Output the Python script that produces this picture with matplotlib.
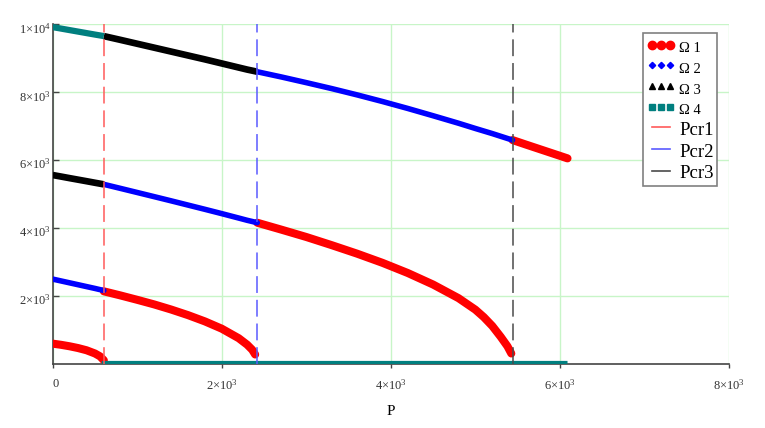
import numpy as np
import matplotlib.pyplot as plt
import matplotlib.transforms as mtransforms
from matplotlib.lines import Line2D
from matplotlib.ticker import FuncFormatter

plt.rcParams['font.family'] = ['Liberation Serif', 'DejaVu Serif']
plt.rcParams['mathtext.fontset'] = 'custom'
plt.rcParams['mathtext.rm'] = 'Liberation Serif'
plt.rcParams['mathtext.it'] = 'Liberation Serif:italic'

nan = np.nan

# critical loads
Pcr1 = 605
Pcr2 = 2420
Pcr3 = 5440

# Omega 1 (red): lowest branch, segments split by NaN
om1_p = [0, 100, 200, 300, 400, 500, 560, 605, nan,
         605, 800, 1000, 1200, 1400, 1600, 1800, 2000, 2200, 2300, 2360, 2395, nan,
         2420, 2700, 3000, 3300, 3600, 3900, 4200, 4500, 4800, 5000, 5100, 5200, 5300, 5380, 5425, nan,
         5440, 5600, 5800, 6000, 6090]
om1_v = [600, 565, 522, 470, 405, 310, 225, 110, nan,
         2140, 2020, 1890, 1755, 1605, 1440, 1255, 1040, 760, 570, 420, 280, nan,
         4160, 3960, 3740, 3500, 3250, 2980, 2680, 2340, 1940, 1600, 1380, 1120, 800, 520, 310, nan,
         6594, 6460, 6295, 6130, 6055]

# Omega 2 (blue)
om2_p = [0, 100, 200, 300, 400, 500, 560, 605, nan,
         605, 800, 1000, 1200, 1400, 1600, 1800, 2000, 2200, 2300, 2380, 2420, nan,
         2420, 2700, 3000, 3300, 3600, 3900, 4200, 4500, 4800, 5000, 5200, 5300, 5400, 5440]
om2_v = [2500, 2445, 2390, 2335, 2280, 2225, 2190, 2165, nan,
         5290, 5172, 5050, 4928, 4805, 4680, 4555, 4428, 4298, 4232, 4185, 4160, nan,
         8605, 8455, 8285, 8110, 7925, 7730, 7525, 7310, 7090, 6935, 6785, 6705, 6625, 6594]

# Omega 3 (black)
om3_p = [0, 100, 200, 300, 400, 500, 560, 605, nan,
         605, 800, 1000, 1200, 1400, 1600, 1800, 2000, 2200, 2300, 2380, 2420]
om3_v = [5564, 5519, 5473, 5428, 5383, 5337, 5310, 5290, nan,
         9655, 9545, 9430, 9315, 9200, 9085, 8970, 8850, 8730, 8670, 8628, 8605]

# Omega 4 (teal)
om4_p = [0, 100, 200, 300, 400, 500, 560, 605, nan,
         580, 1000, 2000, 3000, 4000, 5000, 6090]
om4_v = [9920, 9876, 9832, 9788, 9744, 9700, 9675, 9655, nan,
         0, 0, 0, 0, 0, 0, 0]

x_ticks = [0, 2000, 4000, 6000, 8000]
y_ticks = [2000, 4000, 6000, 8000, 10000]

c_red = '#ff0000'
c_blue = '#0000ff'
c_black = '#000000'
c_teal = '#007f7f'

fig = plt.figure(figsize=(7.65, 4.28), dpi=100)
ax = fig.add_axes([0.0689, 0.1495, 0.884, 0.7935])

ax.plot(om1_p, om1_v, color=c_red, lw=5.8, solid_capstyle='round', zorder=3)
ax.plot(om2_p, om2_v, color=c_blue, lw=4.0, solid_capstyle='round', zorder=3)
ax.plot(om3_p, om3_v, color=c_black, lw=4.8, solid_capstyle='butt', zorder=3)
ax.plot(om4_p, om4_v, color=c_teal, lw=4.5, solid_capstyle='butt', zorder=4)

pcr_cols = ['#ff5a5a', '#5a5aff', '#4a4a4a']
for pc, col in zip([Pcr1, Pcr2, Pcr3], pcr_cols):
    ax.plot([pc, pc], [0, 10000], color=col, lw=1.1, dashes=(11, 4.5), zorder=5)

ax.set_xlim(0, 8000)
ax.set_ylim(0, 10000)
ax.set_xticks(x_ticks)
ax.set_yticks(y_ticks)


def fmt(v, pos):
    if v == 0:
        return '0'
    e = int(np.floor(np.log10(v)))
    m = int(round(v / 10 ** e))
    return f'{m}\u00d710$^{{{e}}}$'


ax.xaxis.set_major_formatter(FuncFormatter(fmt))
ax.yaxis.set_major_formatter(FuncFormatter(fmt))
ax.tick_params(axis='x', direction='out', length=3, width=1, color='#444444',
               labelsize=9, labelcolor='#333333', pad=7)
ax.tick_params(axis='y', direction='in', length=4, width=1, color='#444444',
               labelsize=9, labelcolor='#333333', pad=1)
ax.get_xticklabels()[0].set_horizontalalignment('left')
off = mtransforms.ScaledTranslation(0, -3 / 100, fig.dpi_scale_trans)
for lab in ax.get_yticklabels():
    lab.set_transform(lab.get_transform() + off)

ax.grid(True, color='#c8f5c8', lw=1)
ax.set_axisbelow(True)
for s in ['top', 'right']:
    ax.spines[s].set_visible(False)
for s in ['left', 'bottom']:
    ax.spines[s].set_color('#444444')
    ax.spines[s].set_linewidth(1.2)

ax.set_xlabel('P', fontsize=11, labelpad=9)

handles = [
    Line2D([], [], ls='none', marker='o', ms=6, color=c_red),
    Line2D([], [], ls='none', marker='D', ms=3.2, color=c_blue),
    Line2D([], [], ls='none', marker='^', ms=5, color=c_black),
    Line2D([], [], ls='none', marker='s', ms=5, color=c_teal),
    Line2D([], [], color=pcr_cols[0], lw=1.2),
    Line2D([], [], color=pcr_cols[1], lw=1.2),
    Line2D([], [], color=pcr_cols[2], lw=1.2),
]
labels = ['\u03a9 1', '\u03a9 2', '\u03a9 3', '\u03a9 4', 'Pcr1', 'Pcr2', 'Pcr3']
leg = ax.legend(handles, labels, loc='upper right', bbox_to_anchor=(0.983, 0.974),
                borderaxespad=0, numpoints=3, handlelength=1.55, handleheight=1.05,
                handletextpad=0.2, labelspacing=0.14, borderpad=0.2, fancybox=False,
                framealpha=1, edgecolor='#808080', fontsize=13.5)
leg.get_frame().set_linewidth(1.2)
for t in leg.get_texts()[:4]:
    t.set_fontsize(10.5)

fig.savefig('out.png', dpi=100)
